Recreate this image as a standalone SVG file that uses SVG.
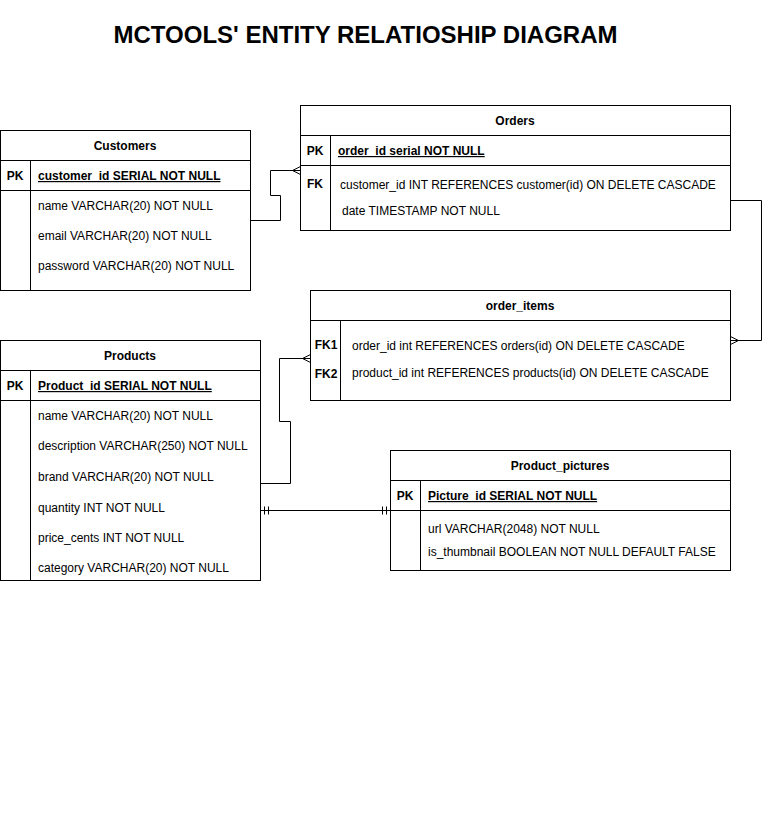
<svg xmlns="http://www.w3.org/2000/svg" width="770" height="821" viewBox="0 0 770 821">
<style>
text{font-family:"Liberation Sans",Arial,sans-serif;font-size:12px;fill:#000}
.b{font-weight:bold}
.c{text-anchor:middle}
.u{text-decoration:underline}
.box{fill:#fff;stroke:#000;stroke-width:1}
.ln{fill:none;stroke:#000;stroke-width:1}
.title{font-size:24px;font-weight:bold;text-anchor:middle}
</style>
<rect width="770" height="821" fill="#fff"/>
<text class="title" x="365.5" y="43">MCTOOLS' ENTITY RELATIOSHIP DIAGRAM</text>

<g id="connectors">
<path class="ln" d="M250.5,220.5 H280.5 V195.5 H270.5 V170.5 H300.5"/>
<path class="ln" d="M292.5,170.5 L300.5,166.5 M292.5,170.5 L300.5,174.5"/>
<path class="ln" d="M730.5,200.5 H761.5 V340.5 H730.5"/>
<path class="ln" d="M738.5,340.5 L730.5,336.5 M738.5,340.5 L730.5,344.5"/>
<path class="ln" d="M260.5,483.5 H290.5 V421.5 H279.5 V358.5 H310.5"/>
<path class="ln" d="M302.5,358.5 L310.5,354.5 M302.5,358.5 L310.5,362.5"/>
<path class="ln" d="M260.5,510.5 H390.5"/>
<path class="ln" d="M264.5,506.5 V514.5 M268.5,506.5 V514.5 M382.5,506.5 V514.5 M386.5,506.5 V514.5"/>
</g>

<g id="customers">
<rect class="box" x="0.5" y="130.5" width="250" height="160"/>
<path class="ln" d="M0.5,160.5 H250.5 M0.5,190.5 H250.5 M30.5,160.5 V290.5"/>
<text class="b c" x="125" y="150">Customers</text>
<text class="b c" x="15" y="180">PK</text>
<text class="b u" x="38" y="180">customer_id SERIAL NOT NULL</text>
<text x="38" y="210">name VARCHAR(20) NOT NULL</text>
<text x="38" y="240">email VARCHAR(20) NOT NULL</text>
<text x="38" y="270">password VARCHAR(20) NOT NULL</text>
</g>

<g id="orders">
<rect class="box" x="300.5" y="105.5" width="430" height="125"/>
<path class="ln" d="M300.5,135.5 H730.5 M300.5,165.5 H730.5 M330.5,135.5 V230.5"/>
<text class="b c" x="515" y="125">Orders</text>
<text class="b c" x="315" y="155">PK</text>
<text class="b u" x="338" y="155">order_id serial NOT NULL</text>
<text class="b c" x="315" y="188">FK</text>
<text x="340" y="189">customer_id INT REFERENCES customer(id) ON DELETE CASCADE</text>
<text x="342" y="215">date TIMESTAMP NOT NULL</text>
</g>

<g id="order_items">
<rect class="box" x="310.5" y="290.5" width="420" height="110"/>
<path class="ln" d="M310.5,320.5 H730.5 M340.5,320.5 V400.5"/>
<text class="b c" x="520" y="310">order_items</text>
<text class="b c" x="326" y="349">FK1</text>
<text class="b c" x="326" y="378">FK2</text>
<text x="352" y="350">order_id int REFERENCES orders(id) ON DELETE CASCADE</text>
<text x="352" y="377">product_id int REFERENCES products(id) ON DELETE CASCADE</text>
</g>

<g id="products">
<rect class="box" x="0.5" y="340.5" width="260" height="240"/>
<path class="ln" d="M0.5,370.5 H260.5 M0.5,400.5 H260.5 M30.5,370.5 V580.5"/>
<text class="b c" x="130" y="360">Products</text>
<text class="b c" x="15" y="390">PK</text>
<text class="b u" x="38" y="390">Product_id SERIAL NOT NULL</text>
<text x="38" y="420">name VARCHAR(20) NOT NULL</text>
<text x="38" y="450">description VARCHAR(250) NOT NULL</text>
<text x="38" y="481">brand VARCHAR(20) NOT NULL</text>
<text x="38" y="512">quantity INT NOT NULL</text>
<text x="38" y="542">price_cents INT NOT NULL</text>
<text x="38" y="572">category VARCHAR(20) NOT NULL</text>
</g>

<g id="product_pictures">
<rect class="box" x="390.5" y="450.5" width="340" height="120"/>
<path class="ln" d="M390.5,480.5 H730.5 M390.5,510.5 H730.5 M420.5,480.5 V570.5"/>
<text class="b c" x="560" y="470">Product_pictures</text>
<text class="b c" x="405" y="500">PK</text>
<text class="b u" x="428" y="500">Picture_id SERIAL NOT NULL</text>
<text x="428" y="533">url VARCHAR(2048) NOT NULL</text>
<text x="428" y="556">is_thumbnail BOOLEAN NOT NULL DEFAULT FALSE</text>
</g>
</svg>
